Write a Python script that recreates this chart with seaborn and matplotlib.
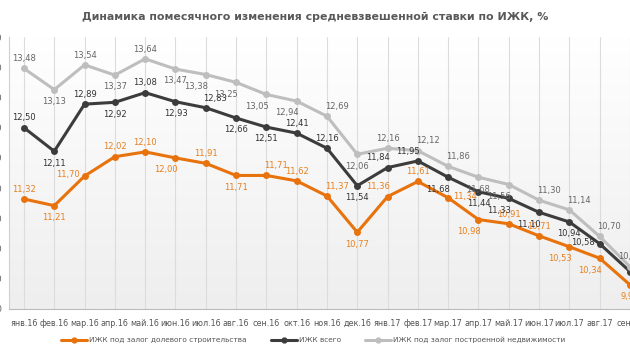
import numpy as np
import pandas as pd
import matplotlib
matplotlib.use('Agg')
import matplotlib.pyplot as plt
from matplotlib.colors import LinearSegmentedColormap
from matplotlib.lines import Line2D
import seaborn as sns

# %% data
months = ['янв.16', 'фев.16', 'мар.16', 'апр.16', 'май.16', 'июн.16', 'июл.16',
          'авг.16', 'сен.16', 'окт.16', 'ноя.16', 'дек.16', 'янв.17', 'фев.17',
          'мар.17', 'апр.17', 'май.17', 'июн.17', 'июл.17', 'авг.17', 'сен.17']
shared = [11.32, 11.21, 11.70, 12.02, 12.10, 12.00, 11.91, 11.71, 11.71, 11.62, 11.37,
          10.77, 11.36, 11.61, 11.34, 10.98, 10.91, 10.71, 10.53, 10.34, 9.90]
total = [12.50, 12.11, 12.89, 12.92, 13.08, 12.93, 12.83, 12.66, 12.51, 12.41, 12.16,
         11.54, 11.84, 11.95, 11.68, 11.44, 11.33, 11.10, 10.94, 10.58, 10.12]
built = [13.48, 13.13, 13.54, 13.37, 13.64, 13.47, 13.38, 13.25, 13.05, 12.94, 12.69,
         12.06, 12.16, 12.12, 11.86, 11.68, 11.56, 11.30, 11.14, 10.70, 10.20]
series_names = ['ИЖК под залог долевого строительства', 'ИЖК всего',
                'ИЖК под залог построенной недвижимости']

# label placement per point
pos_shared = ['a', 'b', 'l', 'a', 'a', 'bl', 'a', 'b', 'ar', 'a', 'ar', 'b', 'al', 'a',
              'r', 'bl', 'a', 'a', 'bl', 'bl', 'b']
pos_total = ['a', 'b', 'a', 'b', 'a', 'b', 'ar', 'b', 'b', 'a', 'a', 'b', 'al', 'al',
             'bl', 'b', 'bl', 'bl', 'b', 'l', 'br']
pos_built = ['a', 'b', 'a', 'b', 'a', 'b', 'bl', 'bl', 'bl', 'bl', 'ar', 'b', 'a', 'ar',
             'ar', 'b', 'bl', 'ar', 'ar', 'ar', 'a']

colors = ['#E8720C', '#3C3C3C', '#BEBEBE']
label_colors = ['#E8801E', '#333333', '#666666']

offsets = {'a': (0, 7), 'b': (0, -8.5), 'l': (-12, 1), 'r': (12, 1),
           'ar': (7, 7), 'al': (-7, 7), 'bl': (-7, -8.5), 'br': (7, -8.5)}

rows = []
for name, vals in zip(series_names, [shared, total, built]):
    for i, v in enumerate(vals):
        rows.append({'x': i, 'value': v, 'series': name})
df = pd.DataFrame(rows)

# %% plot
sns.set_style('white')
plt.rcParams['font.family'] = ['DejaVu Sans']

fig = plt.figure(figsize=(6.3, 3.55), dpi=100)
ax = fig.add_axes([0.014, 0.1296, 1.01, 0.766])

# soft vertical gradient background
grad = np.linspace(0, 1, 256).reshape(-1, 1)
cmap = LinearSegmentedColormap.from_list('bg', ['#FFFFFF', '#EEEEEE'])
ax.imshow(grad, extent=[0, 1, 0, 1], transform=ax.transAxes, cmap=cmap,
          aspect='auto', zorder=0, origin='upper')

sns.lineplot(data=df, x='x', y='value', hue='series', hue_order=series_names,
             palette=colors, marker='o', markersize=5, markeredgewidth=0,
             linewidth=2.2, legend=False, ax=ax, zorder=3)

for vals, pos, lc in zip([shared, total, built], [pos_shared, pos_total, pos_built], label_colors):
    for i, v in enumerate(vals):
        dx, dy = offsets[pos[i]]
        ax.annotate(f'{v:.2f}'.replace('.', ','), (i, v), xytext=(dx, dy),
                    textcoords='offset points', ha='center', va='center',
                    fontsize=6, color=lc, zorder=4)

ax.set_xlim(-0.5, len(months) - 0.5)
ax.set_ylim(9.5, 14.0)
ax.set_yticks(np.arange(9.5, 14.01, 0.5))
ax.set_yticklabels([f'{t:.2f}'.replace('.', ',') for t in np.arange(9.5, 14.01, 0.5)],
                   fontsize=6.5, color='#666666')
ax.set_xticks(range(len(months)))
ax.set_xticklabels(months, fontsize=5.8, color='#555555')
ax.set_xticks(np.arange(-0.5, len(months), 1), minor=True)
ax.tick_params(axis='x', which='major', length=0, pad=7)
ax.tick_params(axis='x', which='minor', length=4, color='#BBBBBB')
ax.tick_params(axis='y', length=2, color='#CCCCCC', pad=2.5)
ax.grid(axis='x', which='major', color='#DCDCDC', linewidth=0.8, zorder=1)
ax.set_xlabel('')
ax.set_ylabel('')
for s in ['top', 'right']:
    ax.spines[s].set_visible(False)
ax.spines['left'].set_color('#D0D0D0')
ax.spines['bottom'].set_color('#BBBBBB')

fig.text(0.5, 0.952, 'Динамика помесячного изменения средневзвешенной ставки по ИЖК, %',
         ha='center', va='center', fontsize=7.9, fontweight='bold', color='#595959')

handles = [Line2D([0], [0], color=c, lw=2.2, marker='o', markersize=3.5) for c in colors]
fig.legend(handles, series_names, loc='center', bbox_to_anchor=(0.497, 0.042), ncol=3,
           frameon=False, fontsize=5.3, handlelength=3.5, handletextpad=0.3,
           columnspacing=3.3, labelcolor='#555555')

fig.savefig('out.png', dpi=100)
